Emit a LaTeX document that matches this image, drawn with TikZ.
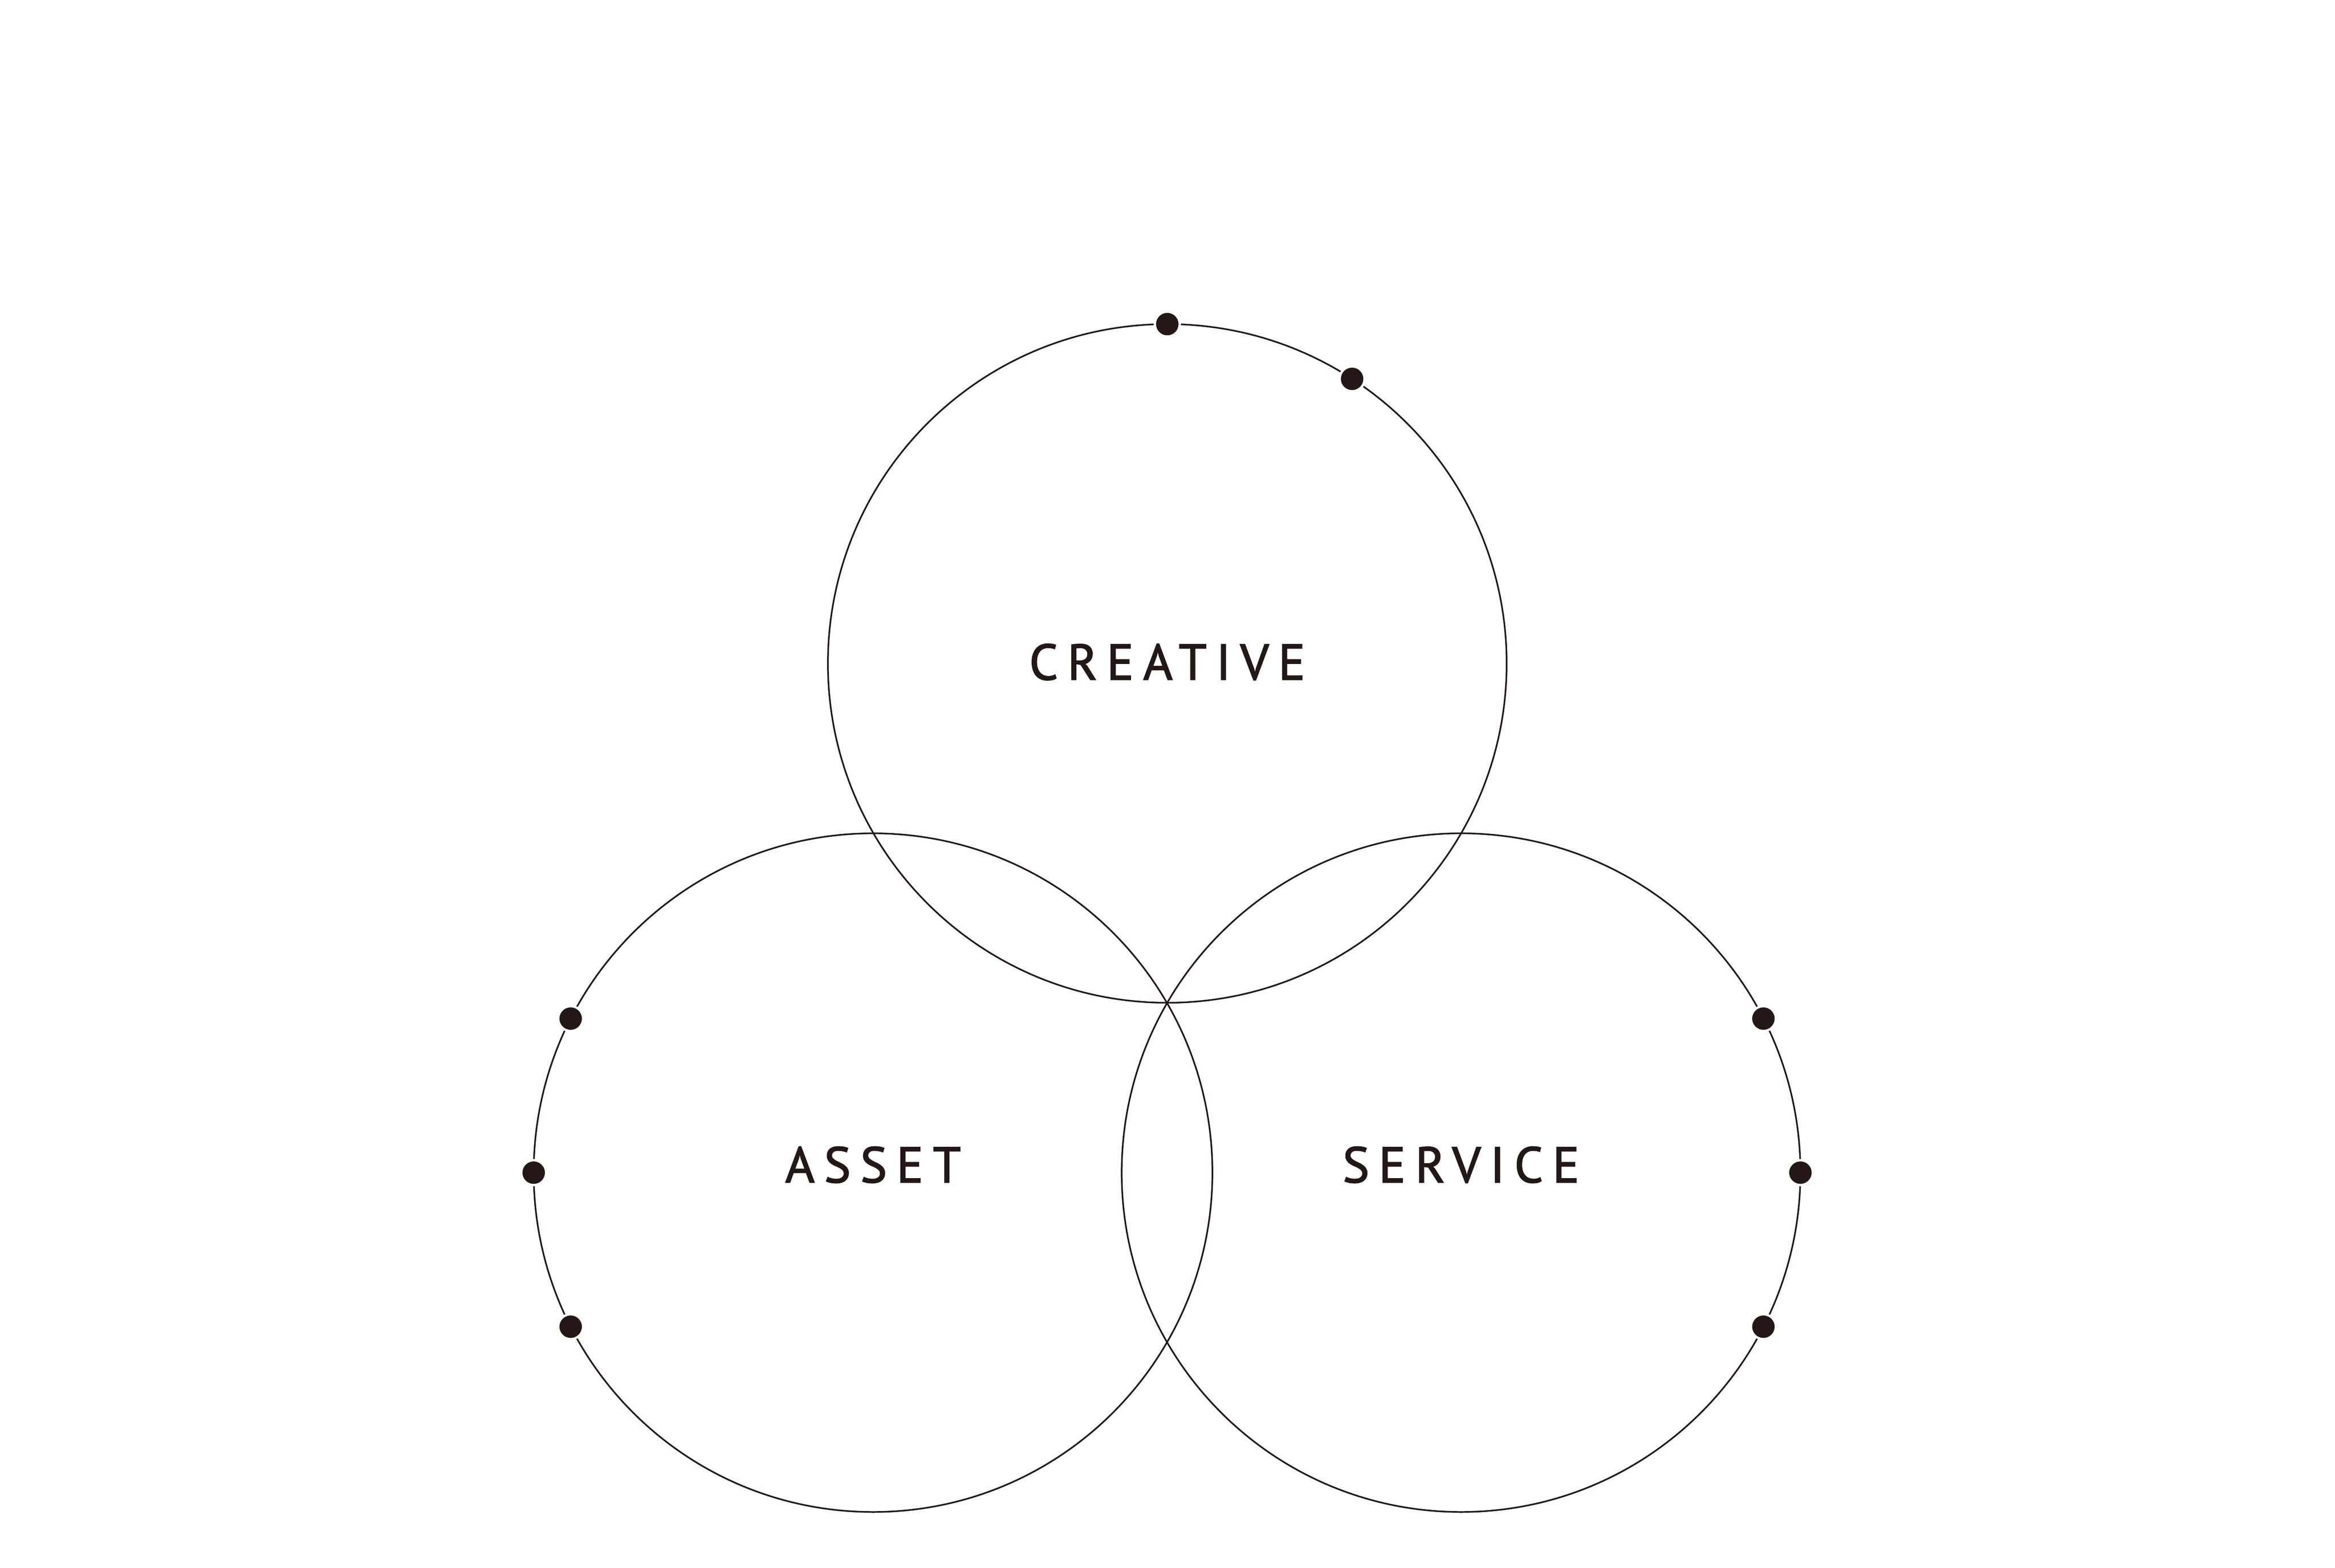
\documentclass[tikz,border=0pt]{standalone}
\usepackage{fontspec}
\setmainfont{PT Sans}
\newfontfamily\ringfont[LetterSpace=19, FakeBold=2]{PT Sans}
\definecolor{ink}{RGB}{35,24,21}
\tikzset{
  ring/.style={circle, draw=ink, line width=1pt, minimum size=14.74cm,
    inner sep=0pt, outer sep=0pt},
  word/.style={inner sep=0pt, text=ink,
    font=\ringfont\fontsize{31}{36}\selectfont},
  pin/.style={circle, fill=ink, draw=white, line width=0.05cm,
    minimum size=0.54cm, inner sep=0pt},
}
\begin{document}
\begin{tikzpicture}
  \useasboundingbox (0,0) rectangle (50.71,34.05);
  \node[ring] (creative) at (25.35,19.64) {};
  \node[ring] (asset) at (18.96,8.58) {};
  \node[ring] (service) at (31.73,8.58) {};

  \node[word] (creativeword) at ([yshift=0.03cm]creative.center) {CREATIVE};
  \node[word] (assetword) at ([yshift=0.17cm]asset.center) {ASSET};
  \node[word] (serviceword) at ([yshift=0.17cm]service.center) {SERVICE};

  \node[pin] (creativetop) at (creative.90) {};
  \node[pin] (creativeside) at (creative.57) {};
  \node[pin] (assetup) at (asset.153) {};
  \node[pin] (assetmid) at (asset.180) {};
  \node[pin] (assetdown) at (asset.207) {};
  \node[pin] (serviceup) at (service.27) {};
  \node[pin] (servicemid) at (service.0) {};
  \node[pin] (servicedown) at (service.-27) {};
\end{tikzpicture}
\end{document}
